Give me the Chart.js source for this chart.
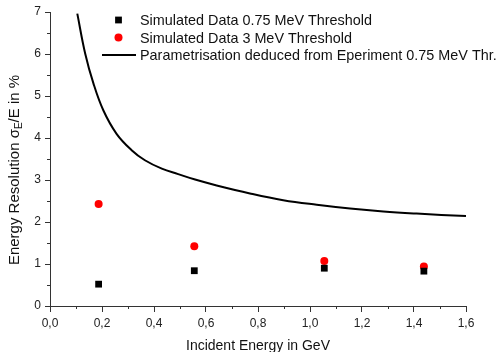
<!DOCTYPE html>
<html>
<head>
<meta charset="utf-8">
<script src="https://cdn.jsdelivr.net/npm/chart.js@4/dist/chart.umd.min.js"></script>
<style>
html,body{margin:0;padding:0;background:#fff;}
canvas{display:block;}
</style>
</head>
<body>
<canvas id="c" width="500" height="352"></canvas>
<script>
// ---- data ----
const xTickLabels = ['0,0','0,2','0,4','0,6','0,8','1,0','1,2','1,4','1,6'];
const yTickLabels = ['0','1','2','3','4','5','6','7'];
const simEnergy = [0.187, 0.555, 1.055, 1.438];
const sim075 = [0.52, 0.84, 0.90, 0.83];
const sim3 = [2.43, 1.42, 1.07, 0.94];
const paramEnergy = [0.105,0.135,0.167,0.205,0.256,0.314,0.365,0.43,0.493,0.558,0.641,0.769,0.897,1.026,1.154,1.282,1.41,1.6];
const paramRes    = [6.96,6.02,5.30,4.66,4.10,3.71,3.47,3.27,3.14,3.01,2.87,2.68,2.52,2.41,2.32,2.25,2.20,2.14];
const seriesNames = ['Simulated Data 0.75 MeV Threshold','Simulated Data 3 MeV Threshold','Parametrisation deduced from Eperiment 0.75 MeV Thr.'];
const xTitle = 'Incident Energy in GeV';
const yTitleParts = ['Energy Resolution \u03C3', 'E', '/E in %'];

const toXY = (xs, ys) => xs.map((v, i) => ({x: v, y: ys[i]}));
const AX = '#333333';
const FAM = '"Liberation Sans", Arial, sans-serif';

const customPlugin = {
  id: 'custom',
  afterDraw(chart) {
    const {ctx, chartArea: a, scales: {x, y}} = chart;
    ctx.save();
    // minor ticks
    ctx.strokeStyle = AX; ctx.lineWidth = 1;
    ctx.beginPath();
    const xt = x.ticks.map(t => t.value);
    for (let i = 0; i < xt.length - 1; i++) {
      const px = Math.round(x.getPixelForValue((xt[i] + xt[i+1]) / 2)) + 0.5;
      ctx.moveTo(px, a.bottom); ctx.lineTo(px, a.bottom + 3);
    }
    const yt = y.ticks.map(t => t.value);
    for (let i = 0; i < yt.length - 1; i++) {
      const py = Math.round(y.getPixelForValue((yt[i] + yt[i+1]) / 2)) + 0.5;
      ctx.moveTo(a.left - 3, py); ctx.lineTo(a.left, py);
    }
    ctx.stroke();

    // legend
    const rows = [20, 37.5, 55];
    const markerX = 118.5, textX = 140;
    chart.data.datasets.forEach((ds, i) => {
      const cy = rows[i];
      if (ds.showLine) {
        ctx.strokeStyle = ds.borderColor; ctx.lineWidth = ds.borderWidth;
        ctx.beginPath(); ctx.moveTo(102, cy); ctx.lineTo(136, cy); ctx.stroke();
      } else {
        ctx.fillStyle = ds.backgroundColor; ctx.strokeStyle = ds.borderColor; ctx.lineWidth = 1;
        Chart.helpers.drawPoint(ctx, {pointStyle: ds.pointStyle, radius: ds.pointRadius, borderWidth: 0}, markerX, cy);
      }
      ctx.fillStyle = '#111';
      ctx.font = '14.4px ' + FAM;
      ctx.textBaseline = 'alphabetic'; ctx.textAlign = 'left';
      ctx.fillText(ds.label, textX, cy + 5.3);
    });

    // x title
    ctx.fillStyle = '#111';
    ctx.font = '14px ' + FAM;
    ctx.textAlign = 'center'; ctx.textBaseline = 'alphabetic';
    ctx.fillText(xTitle, (a.left + a.right) / 2, 350);

    // y title with subscript
    const big = '15px ' + FAM;
    const small = '10px ' + FAM;
    ctx.font = big; const w0 = ctx.measureText(yTitleParts[0]).width;
    const w2 = ctx.measureText(yTitleParts[2]).width;
    ctx.font = small; const w1 = ctx.measureText(yTitleParts[1]).width;
    const total = w0 + w1 + w2;
    ctx.translate(18.5, 170);
    ctx.rotate(-Math.PI / 2);
    ctx.textAlign = 'left';
    let sx = -total / 2;
    ctx.font = big; ctx.fillText(yTitleParts[0], sx, 0); sx += w0;
    ctx.font = small; ctx.fillText(yTitleParts[1], sx, 3); sx += w1;
    ctx.font = big; ctx.fillText(yTitleParts[2], sx, 0);
    ctx.restore();
  }
};

new Chart(document.getElementById('c'), {
  type: 'scatter',
  data: {
    datasets: [
      {label: seriesNames[0], data: toXY(simEnergy, sim075), pointStyle: 'rect', pointRadius: 4.8,
       backgroundColor: '#000000', borderColor: '#000000', borderWidth: 0, showLine: false},
      {label: seriesNames[1], data: toXY(simEnergy, sim3), pointStyle: 'circle', pointRadius: 4,
       backgroundColor: '#ff0000', borderColor: '#ff0000', borderWidth: 0, showLine: false},
      {label: seriesNames[2], data: toXY(paramEnergy, paramRes), showLine: true, pointRadius: 0,
       borderColor: '#000000', backgroundColor: '#000000', borderWidth: 2, tension: 0.4, fill: false}
    ]
  },
  options: {
    responsive: false,
    devicePixelRatio: 1,
    animation: false,
    events: [],
    layout: {padding: {left: 0, top: 12, right: 34, bottom: 0}},
    plugins: {legend: {display: false}, tooltip: {enabled: false}, title: {display: false}},
    scales: {
      x: {
        type: 'linear', min: 0, max: 1.6,
        afterFit: s => { s.height = 46; },
        ticks: {stepSize: 0.2, padding: 4, color: '#222', font: {family: FAM, size: 12},
                callback: (v, i) => xTickLabels[i]},
        grid: {drawOnChartArea: false, drawTicks: true, tickLength: 6, tickColor: AX},
        border: {display: true, color: AX, width: 1}
      },
      y: {
        type: 'linear', min: 0, max: 7,
        afterFit: s => { s.width = 50; },
        ticks: {stepSize: 1, padding: 4, color: '#222', font: {family: FAM, size: 12},
                callback: (v, i) => yTickLabels[i]},
        grid: {drawOnChartArea: false, drawTicks: true, tickLength: 5, tickColor: AX},
        border: {display: true, color: AX, width: 1}
      }
    }
  },
  plugins: [customPlugin]
});
</script>
</body>
</html>
